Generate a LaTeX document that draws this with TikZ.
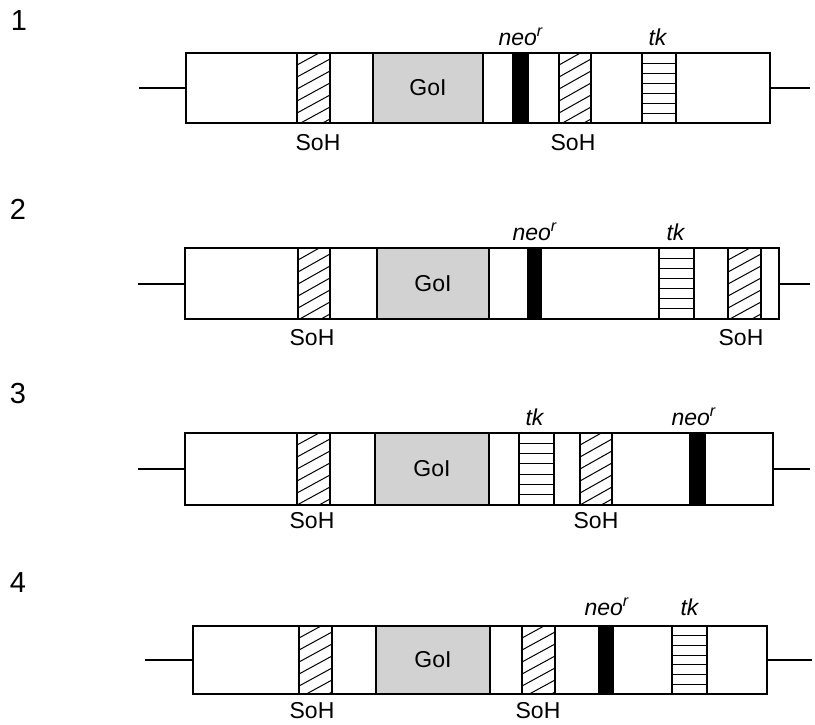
\documentclass[tikz,border=0pt]{standalone}
\usepackage{fontspec}
\setmainfont{Liberation Sans}
\begin{document}
\begin{tikzpicture}[x=1pt,y=-1pt,
  box/.style={draw=black,line width=1.4pt},
  thinline/.style={draw=black,line width=1pt},
  goiedge/.style={draw=black,line width=2.4pt},
  lbl/.style={font=\fontsize{23}{26}\selectfont,inner sep=0pt},
  num/.style={font=\fontsize{29}{32}\selectfont,inner sep=0pt}]
\useasboundingbox (0,0) rectangle (815,724);
\newcommand\hatchbar[4]{%
  \begin{scope}
    \clip (#1,#3) rectangle (#2,#4);
    \foreach \k in {0,...,9} {\draw[thinline] (#1,#3+\k*12) -- (#2,#3+\k*12-18);}
  \end{scope}
  \draw[box] (#1,#3) rectangle (#2,#4);}
\newcommand\tkbar[4]{%
  \foreach \k in {1,...,6} {\draw[thinline] (#1,{#3+\k*(#4-#3)/7}) -- (#2,{#3+\k*(#4-#3)/7});}
  \draw[box] (#1,#3) rectangle (#2,#4);}
\newcommand\neobar[4]{\fill[black] (#1,#3) rectangle (#2,#4);}
\newcommand\goibox[4]{%
  \fill[gray!35] (#1,#3) rectangle (#2,#4);
  \draw[goiedge] (#1,#3) -- (#1,#4) (#2,#3) -- (#2,#4);
  \node[lbl] at ({(#1+#2)/2},{(#3+#4)/2}) {GoI};}
\newcommand\cassette[7]{% left right top bottom lineleft lineright liney
  \draw[box] (#5,#7) -- (#1,#7);
  \draw[box] (#2,#7) -- (#6,#7);
  \draw[box] (#1,#3) rectangle (#2,#4);}

% numbers
\node[num] (n1) at (19,21) {1};
\node[num] (n2) at (18,209) {2};
\node[num] (n3) at (18,394) {3};
\node[num] (n4) at (18,583) {4};

% Row 1
\cassette{186}{770}{53}{123}{139}{810}{88}
\hatchbar{297}{330}{53}{123}
\goibox{373}{483}{53}{123}
\neobar{512}{529}{53}{123}
\hatchbar{559}{591}{53}{123}
\tkbar{642}{676}{53}{123}
\draw[box] (186,53) rectangle (770,123);
\node[lbl] (s11) at (318,143) {SoH};
\node[lbl] (s12) at (573,143) {SoH};
\node[lbl] (ne1) at (521,37) {\textit{neo}\textsuperscript{\textit{r}}};
\node[lbl] (tk1) at (658,37) {\textit{tk}};

% Row 2
\cassette{185}{779}{248}{319}{138}{810}{284}
\hatchbar{298}{330}{248}{319}
\goibox{377}{489}{248}{319}
\neobar{527}{542}{248}{319}
\tkbar{659}{694}{248}{319}
\hatchbar{728}{761}{248}{319}
\draw[box] (185,248) rectangle (779,319);
\node[lbl] (s21) at (312,338) {SoH};
\node[lbl] (s22) at (741,338) {SoH};
\node[lbl] (ne2) at (535,232) {\textit{neo}\textsuperscript{\textit{r}}};
\node[lbl] (tk2) at (676,232) {\textit{tk}};

% Row 3
\cassette{185}{773}{433}{505}{138}{810}{469}
\hatchbar{297}{330}{433}{505}
\goibox{375}{489}{433}{505}
\tkbar{519}{554}{433}{505}
\hatchbar{580}{612}{433}{505}
\neobar{689}{706}{433}{505}
\draw[box] (185,433) rectangle (773,505);
\node[lbl] (s31) at (312,521) {SoH};
\node[lbl] (s32) at (596,521) {SoH};
\node[lbl] (tk3) at (535,417) {\textit{tk}};
\node[lbl] (ne3) at (694,417) {\textit{neo}\textsuperscript{\textit{r}}};

% Row 4
\cassette{193}{767}{626}{694}{145}{812}{660}
\hatchbar{299}{332}{626}{694}
\goibox{376}{490}{626}{694}
\hatchbar{522}{555}{626}{694}
\neobar{598}{614}{626}{694}
\tkbar{672}{707}{626}{694}
\draw[box] (193,626) rectangle (767,694);
\node[lbl] (s41) at (312,711) {SoH};
\node[lbl] (s42) at (538,711) {SoH};
\node[lbl] (ne4) at (607,607) {\textit{neo}\textsuperscript{\textit{r}}};
\node[lbl] (tk4) at (690,607) {\textit{tk}};
\end{tikzpicture}
\end{document}
